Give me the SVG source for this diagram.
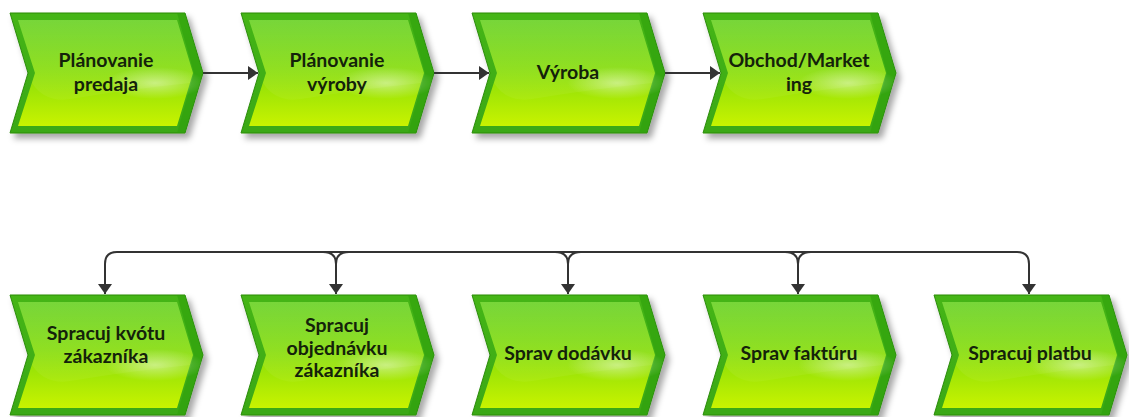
<svg xmlns="http://www.w3.org/2000/svg" xmlns:xlink="http://www.w3.org/1999/xlink" width="1129" height="417" viewBox="0 0 1129 417">
  <defs>
    <linearGradient id="bandGrad" x1="0" y1="0" x2="0" y2="1">
      <stop offset="0" stop-color="#45b516"/>
      <stop offset="1" stop-color="#3aa812"/>
    </linearGradient>
    <linearGradient id="faceGrad" x1="0" y1="0" x2="0" y2="1">
      <stop offset="0" stop-color="#5acd0e"/>
      <stop offset="0.45" stop-color="#84dc0a"/>
      <stop offset="1" stop-color="#c8f300"/>
    </linearGradient>
    <linearGradient id="glossGrad" x1="0" y1="0" x2="0" y2="1">
      <stop offset="0" stop-color="#ffffff" stop-opacity="0.18"/>
      <stop offset="1" stop-color="#ffffff" stop-opacity="0.04"/>
    </linearGradient>
    <radialGradient id="shineGrad" cx="0.5" cy="0.5" r="0.5">
      <stop offset="0" stop-color="#ffffff" stop-opacity="0.45"/>
      <stop offset="1" stop-color="#ffffff" stop-opacity="0"/>
    </radialGradient>
    <filter id="shadow" x="-10%" y="-10%" width="125%" height="130%">
      <feDropShadow dx="4" dy="5" stdDeviation="3" flood-color="#000000" flood-opacity="0.35"/>
    </filter>
    <marker id="arrow" viewBox="0 0 10 14" refX="10" refY="7" markerWidth="10" markerHeight="14" markerUnits="userSpaceOnUse" orient="auto">
      <path d="M0,0 L10,7 L0,14 Z" fill="#333333"/>
    </marker>
    <!-- process chevron, drawn at origin -->
    <g id="chev">
      <path d="M0,0 H175 L193,60 L175,120 H0 L18,60 Z" fill="url(#bandGrad)" stroke="#2c8c0c" stroke-width="1" filter="url(#shadow)"/>
      <path d="M175,0 L193,60 L175,120 H167 L184,60 L167,0 Z" fill="#2fa00c" opacity="0.6"/>
      <path d="M8,7 H167 L183,60 L167,113 H8 L25,60 Z" fill="url(#faceGrad)"/>
      <path d="M8,7 H167 L183,60 L180,70 Q120,76 60,86 Q35,90 22,70 L25,60 Z" fill="url(#glossGrad)"/>
      <ellipse cx="145" cy="70" rx="50" ry="16" fill="url(#shineGrad)"/>
    </g>
  </defs>
  <style>
    .lbl { font-family: Lato, "Open Sans", "Liberation Sans", sans-serif; font-weight: bold; font-size: 19.5px; fill: #14220a; text-anchor: middle; }
    .conn { fill: none; stroke: #333333; stroke-width: 2; }
  </style>

  <!-- upper process chain -->
  <g id="planovanie-predaja" transform="translate(10,13)">
    <use xlink:href="#chev"/>
    <text class="lbl" x="96" y="54">Plánovanie</text>
    <text class="lbl" x="96" y="78">predaja</text>
  </g>
  <g id="planovanie-vyroby" transform="translate(241,13)">
    <use xlink:href="#chev"/>
    <text class="lbl" x="96" y="54">Plánovanie</text>
    <text class="lbl" x="96" y="78">výroby</text>
  </g>
  <g id="vyroba" transform="translate(472,13)">
    <use xlink:href="#chev"/>
    <text class="lbl" x="96" y="66">Výroba</text>
  </g>
  <g id="obchod-marketing" transform="translate(703,13)">
    <use xlink:href="#chev"/>
    <text class="lbl" x="96" y="54">Obchod/Market</text>
    <text class="lbl" x="96" y="78">ing</text>
  </g>

  <!-- lower process row -->
  <g id="spracuj-kvotu" transform="translate(10,295)">
    <use xlink:href="#chev"/>
    <text class="lbl" x="96" y="45">Spracuj kvótu</text>
    <text class="lbl" x="96" y="68">zákazníka</text>
  </g>
  <g id="spracuj-objednavku" transform="translate(241,295)">
    <use xlink:href="#chev"/>
    <text class="lbl" x="96" y="37">Spracuj</text>
    <text class="lbl" x="96" y="60">objednávku</text>
    <text class="lbl" x="96" y="82">zákazníka</text>
  </g>
  <g id="sprav-dodavku" transform="translate(472,295)">
    <use xlink:href="#chev"/>
    <text class="lbl" x="96" y="65">Sprav dodávku</text>
  </g>
  <g id="sprav-fakturu" transform="translate(703,295)">
    <use xlink:href="#chev"/>
    <text class="lbl" x="96" y="65">Sprav faktúru</text>
  </g>
  <g id="spracuj-platbu" transform="translate(934,295)">
    <use xlink:href="#chev"/>
    <text class="lbl" x="96" y="65">Spracuj platbu</text>
  </g>

  <!-- connectors -->
  <g id="connectors">
    <path class="conn" d="M203,73 H258" marker-end="url(#arrow)"/>
    <path class="conn" d="M434,73 H489" marker-end="url(#arrow)"/>
    <path class="conn" d="M665,73 H720" marker-end="url(#arrow)"/>

    <path class="conn" d="M117,252 H1017"/>
    <path class="conn" d="M117,252 Q105,252 105,264 V294" marker-end="url(#arrow)"/>
    <path class="conn" d="M1017,252 Q1029,252 1029,264 V294" marker-end="url(#arrow)"/>
    <path class="conn" d="M323,252 Q336,252 336,264 M349,252 Q336,252 336,264 V294" marker-end="url(#arrow)"/>
    <path class="conn" d="M555,252 Q568,252 568,264 M581,252 Q568,252 568,264 V294" marker-end="url(#arrow)"/>
    <path class="conn" d="M785,252 Q798,252 798,264 M811,252 Q798,252 798,264 V294" marker-end="url(#arrow)"/>
  </g>
</svg>
